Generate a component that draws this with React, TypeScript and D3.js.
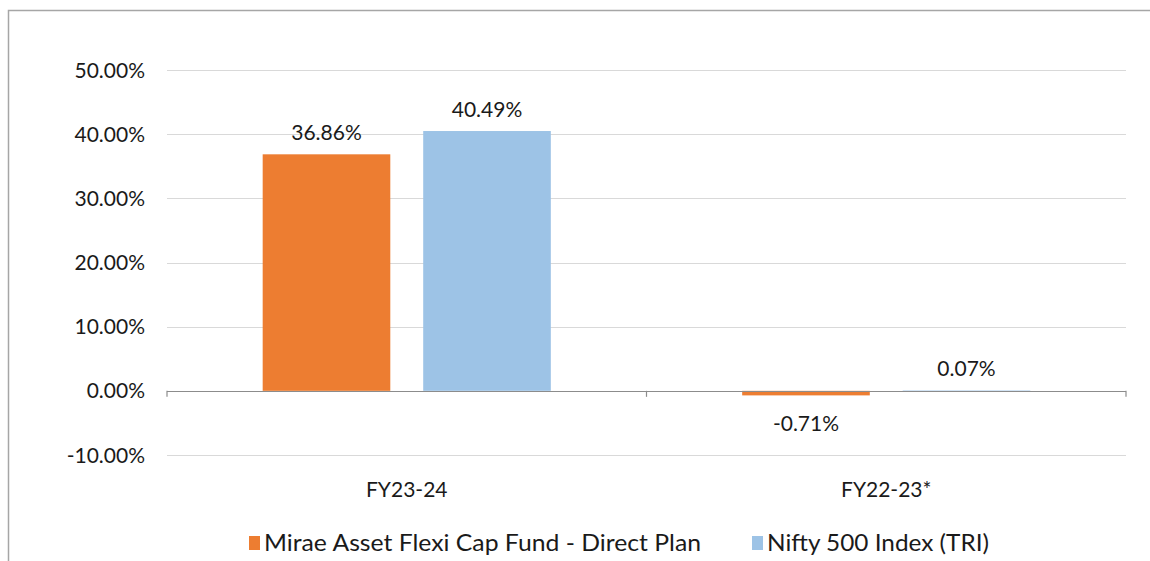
import React, { useRef, useEffect } from 'react';
import * as d3 from 'd3';

const categories = ['FY23-24', 'FY22-23*'];
const seriesNames = ['Mirae Asset Flexi Cap Fund - Direct Plan', 'Nifty 500 Index (TRI)'];
const fundValues = [36.86, -0.71];
const indexValues = [40.49, 0.07];
const yTicks = [-10, 0, 10, 20, 30, 40, 50];
const colors = ['#ED7D31', '#9DC3E6'];

const App = () => {
    const svgRef = useRef<SVGSVGElement>(null);

    useEffect(() => {
        const svg = d3.select(svgRef.current);
        svg.selectAll('*').remove();

        const width = 1150;
        const height = 561;
        const font = 'Lato, "Open Sans", sans-serif';

        // outer chart border (runs off right and bottom edges)
        svg.append('rect')
            .attr('x', 8.5)
            .attr('y', 10.5)
            .attr('width', width + 50)
            .attr('height', height + 50)
            .attr('fill', 'white')
            .attr('stroke', '#a6a6a6')
            .attr('stroke-width', 1.5);

        const y = d3.scaleLinear().domain([-10, 50]).range([455, 70]);
        const x0 = d3.scaleBand().domain(categories).range([167, 1126]).padding(0);
        const x1 = d3.scaleBand().domain(seriesNames)
            .range([0, x0.bandwidth()])
            .paddingInner(0.205)
            .paddingOuter(0.596);

        // gridlines
        svg.append('g')
            .selectAll('line')
            .data(yTicks.filter(t => t !== 0))
            .join('line')
            .attr('x1', 167)
            .attr('x2', 1126)
            .attr('y1', d => Math.round(y(d)) + 0.5)
            .attr('y2', d => Math.round(y(d)) + 0.5)
            .attr('stroke', '#d9d9d9')
            .attr('stroke-width', 1.2);

        // y tick labels
        svg.append('g')
            .selectAll('text')
            .data(yTicks)
            .join('text')
            .attr('x', 145)
            .attr('y', d => y(d))
            .attr('dy', '0.36em')
            .attr('text-anchor', 'end')
            .attr('font-family', font)
            .attr('font-size', '21px')
            .attr('fill', '#1a1a1a')
            .text(d => `${d.toFixed(2)}%`);

        const rows = categories.map((c, i) => ({ cat: c, values: [fundValues[i], indexValues[i]] }));

        const groups = svg.append('g')
            .selectAll('g')
            .data(rows)
            .join('g')
            .attr('transform', d => `translate(${x0(d.cat)},0)`);

        const bars = groups.selectAll('g')
            .data(d => d.values.map((v, j) => ({ v, name: seriesNames[j], j })))
            .join('g');

        bars.append('rect')
            .attr('x', d => x1(d.name)!)
            .attr('width', x1.bandwidth())
            .attr('y', d => y(Math.max(0, d.v)))
            .attr('height', d => Math.abs(y(d.v) - y(0)))
            .attr('fill', d => colors[d.j]);

        bars.append('text')
            .attr('x', d => x1(d.name)! + x1.bandwidth() / 2)
            .attr('y', d => d.v >= 0 ? y(d.v) - 14 : y(d.v) + 36)
            .attr('text-anchor', 'middle')
            .attr('font-family', font)
            .attr('font-size', '21px')
            .attr('fill', '#1a1a1a')
            .text(d => `${d.v.toFixed(2)}%`);

        // zero axis line and category ticks
        svg.append('line')
            .attr('x1', 167)
            .attr('x2', 1126)
            .attr('y1', Math.round(y(0)) + 0.5)
            .attr('y2', Math.round(y(0)) + 0.5)
            .attr('stroke', '#8c8c8c')
            .attr('stroke-width', 1.2);

        svg.append('g')
            .selectAll('line')
            .data([167, 167 + x0.bandwidth(), 1126])
            .join('line')
            .attr('x1', d => d)
            .attr('x2', d => d)
            .attr('y1', y(0))
            .attr('y2', y(0) + 6)
            .attr('stroke', '#8c8c8c')
            .attr('stroke-width', 1.2);

        // category labels
        svg.append('g')
            .selectAll('text')
            .data(categories)
            .join('text')
            .attr('x', d => x0(d)! + x0.bandwidth() / 2)
            .attr('y', 497)
            .attr('text-anchor', 'middle')
            .attr('font-family', font)
            .attr('font-size', '21px')
            .attr('fill', '#1a1a1a')
            .text(d => d);

        // legend
        const legendX = [249, 752];
        const legendW = [437, 222];
        const legend = svg.append('g')
            .selectAll('g')
            .data(seriesNames)
            .join('g')
            .attr('transform', (d, i) => `translate(${legendX[i]},0)`);

        legend.append('rect')
            .attr('x', 0)
            .attr('y', 536)
            .attr('width', 11)
            .attr('height', 14)
            .attr('fill', (d, i) => colors[i]);

        legend.append('text')
            .attr('x', 15)
            .attr('y', 551)
            .attr('font-family', font)
            .attr('font-size', '24px')
            .attr('fill', '#1a1a1a')
            .attr('textLength', (d, i) => legendW[i])
            .attr('lengthAdjust', 'spacingAndGlyphs')
            .text(d => d);
    }, []);

    return (
        <svg ref={svgRef} width={1150} height={561}
            style={{ position: 'absolute', left: 0, top: 0, display: 'block' }}></svg>
    );
};

export default App;
